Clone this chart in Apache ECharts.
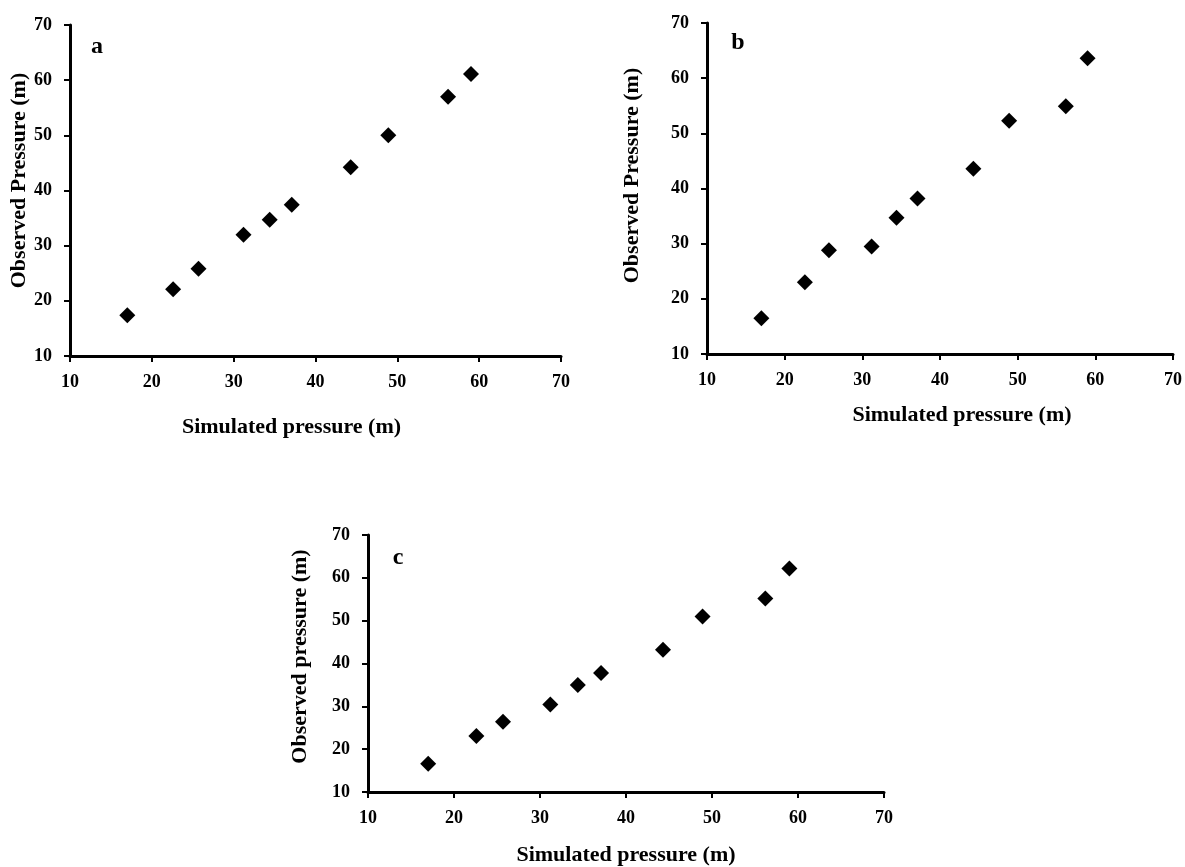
<!DOCTYPE html>
<html>
<head>
<meta charset="utf-8">
<script src="https://cdn.jsdelivr.net/npm/echarts@6/dist/echarts.min.js"></script>
<style>
  html, body { margin: 0; padding: 0; background: #fff; }
  #chart { width: 1185px; height: 867px; }
</style>
</head>
<body>
<div id="chart"></div>
<script>
// simulated pressure (m), same for all three panels
var simulated = [17.0, 22.6, 25.7, 31.2, 34.4, 37.1, 44.3, 48.9, 56.2, 59.0];
// observed pressure (m) per panel
var observedA = [17.4, 22.1, 25.8, 32.0, 34.7, 37.4, 44.2, 50.0, 57.0, 61.1];
var observedB = [16.5, 23.0, 28.8, 29.5, 34.7, 38.2, 43.6, 52.3, 54.9, 63.6];
var observedC = [16.6, 23.1, 26.4, 30.4, 35.0, 37.8, 43.2, 51.0, 55.2, 62.2];
var panelLetters = ['a', 'b', 'c'];
var yNames = ['Observed Pressure (m)', 'Observed Pressure (m)', 'Observed pressure (m)'];
var xName = 'Simulated pressure (m)';
var axisMin = 10, axisMax = 70, axisStep = 10;

var font = 'Liberation Serif';

function pairs(xs, ys) {
  return xs.map(function (x, i) { return [x, ys[i]]; });
}

// grid boxes in px
var grids = [
  { left: 70, top: 25, width: 491, height: 331 },
  { left: 707, top: 23, width: 467, height: 331 },
  { left: 368, top: 535, width: 516, height: 259 }
];
var xNameGap = [60, 50, 52];
var xNamePad = [[0, 48, 0, 0], [0, 0, 0, 44], [0, 0, 0, 0]];
var yNameGap = [40, 64, 57];
var yNamePad = [[0, 0, 0, 20], [0, 0, 0, 26], [0, 0, 0, 14]];
var letterPos = [[97, 47], [738, 43], [398, 558]];

function xAxisOf(i) {
  return {
    gridIndex: i, type: 'value', min: axisMin, max: axisMax, interval: axisStep,
    name: xName, nameLocation: 'middle', nameGap: xNameGap[i],
    nameTextStyle: { fontFamily: font, fontWeight: 'bold', fontSize: 22, color: '#000', padding: xNamePad[i] },
    axisLine: { onZero: false, lineStyle: { color: '#000', width: 3 } },
    axisTick: { show: true, length: 6, lineStyle: { color: '#000', width: 2 } },
    axisLabel: { fontFamily: font, fontWeight: 'bold', fontSize: 18, color: '#000', margin: 17 },
    splitLine: { show: false }
  };
}
function yAxisOf(i) {
  return {
    gridIndex: i, type: 'value', min: axisMin, max: axisMax, interval: axisStep,
    name: yNames[i], nameLocation: 'middle', nameGap: yNameGap[i],
    nameTextStyle: { fontFamily: font, fontWeight: 'bold', fontSize: 22, color: '#000', padding: yNamePad[i] },
    axisLine: { onZero: false, lineStyle: { color: '#000', width: 3 } },
    axisTick: { show: true, length: 6, lineStyle: { color: '#000', width: 2 } },
    axisLabel: { fontFamily: font, fontWeight: 'bold', fontSize: 18, color: '#000', margin: 18 },
    splitLine: { show: false }
  };
}

var observed = [observedA, observedB, observedC];
var option = {
  backgroundColor: '#fff',
  animation: false,
  grid: grids,
  xAxis: [0, 1, 2].map(xAxisOf),
  yAxis: [0, 1, 2].map(yAxisOf),
  series: observed.map(function (ys, i) {
    return {
      type: 'scatter', xAxisIndex: i, yAxisIndex: i,
      symbol: 'diamond', symbolSize: 16,
      itemStyle: { color: '#000', opacity: 1 },
      data: pairs(simulated, ys)
    };
  }),
  graphic: panelLetters.map(function (t, i) {
    return {
      type: 'text', x: letterPos[i][0], y: letterPos[i][1],
      style: { text: t, font: 'bold 24px "Liberation Serif"', fill: '#000', align: 'center', verticalAlign: 'middle' }
    };
  })
};

var chart = echarts.init(document.getElementById('chart'));
chart.setOption(option);
</script>
</body>
</html>
